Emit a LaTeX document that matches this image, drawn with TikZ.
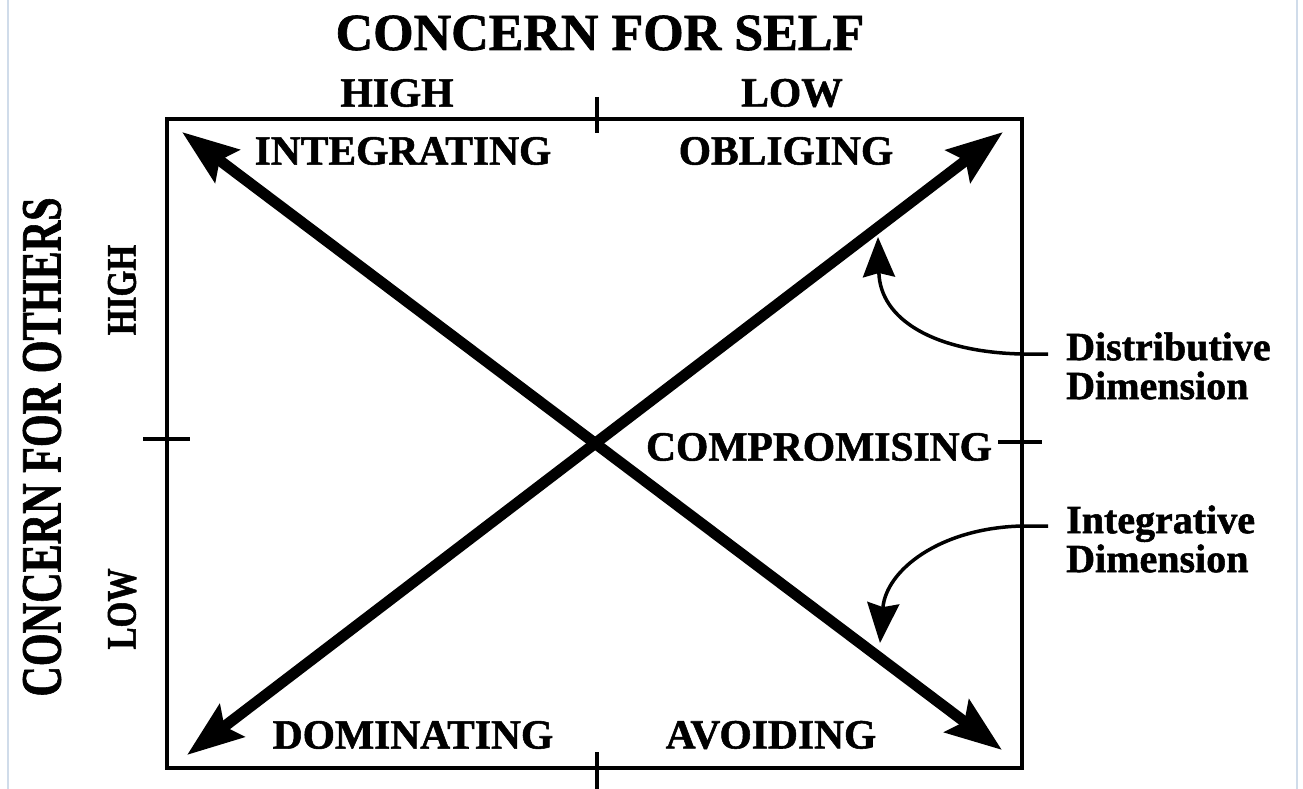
\documentclass[tikz,border=0pt]{standalone}
\usepackage{fontspec}
\setmainfont{Liberation Serif}[BoldFeatures={FakeBold=1.3}]
\usepackage{graphicx}
\definecolor{cfframe}{RGB}{0,0,0}
\definecolor{cfedge}{RGB}{208,220,234}
\usetikzlibrary{arrows.meta}

\begin{document}
\begin{tikzpicture}[x=1pt,y=-1pt,
  headlbl/.style={font=\fontsize{52}{56}\selectfont\bfseries,inner sep=0pt},
  quadlbl/.style={font=\fontsize{41.5}{44}\selectfont\bfseries,inner sep=0pt},
  sidelbl/.style={font=\fontsize{57}{60}\selectfont\bfseries,inner sep=0pt,rotate=90},
  levlbl/.style={font=\fontsize{42}{46}\selectfont\bfseries,inner sep=0pt,rotate=90},
  dimlbl/.style={font=\fontsize{40}{39}\selectfont\bfseries,inner sep=0pt,align=left,anchor=west},
  bigarrow/.style={line width=11pt,{Stealth[length=56pt,width=40pt,inset=9pt]}-{Stealth[length=56pt,width=40pt,inset=9pt]}},
  callout/.style={line width=3.5pt,-{Stealth[length=40pt,width=32pt,inset=4pt]}},
  tickmark/.style={line width=4pt}]
\useasboundingbox (0,0) rectangle (1303,789);
\draw[cfedge,line width=2pt] (8,0) -- (8,789);
\draw[cfedge,line width=2pt] (1297,0) -- (1297,789);

% axes titles
\node[headlbl] (self) at (600,33) {CONCERN FOR SELF};
\node[sidelbl] (others) at (42,447) {\scalebox{0.74}[1]{CONCERN FOR OTHERS}};
\node[quadlbl] (selfhigh) at (397,93) {HIGH};
\node[quadlbl] (selflow) at (792,93) {LOW};
\node[levlbl] (othhigh) at (122,290) {\scalebox{0.79}[1]{HIGH}};
\node[levlbl] (othlow) at (122,609) {\scalebox{0.79}[1]{LOW}};

% frame and ticks
\draw[cfframe,line width=4.5pt] (167,119) rectangle (1022,768);
\draw[tickmark] (597,97) -- (597,133);
\draw[tickmark] (597,752) -- (597,789);
\draw[tickmark] (143,439) -- (190,439);
\draw[tickmark] (998,442) -- (1042,442);

% styles
\node[quadlbl] (integ) at (403,151) {INTEGRATING};
\node[quadlbl] (oblig) at (786,151) {OBLIGING};
\node[quadlbl] (comp) at (819,447) {COMPROMISING};
\node[quadlbl] (domin) at (413,735) {DOMINATING};
\node[quadlbl] (avoid) at (771,735) {AVOIDING};

% dimensions
\coordinate (tl) at (182,132);
\coordinate (br) at (1002,750);
\coordinate (bl) at (187,755);
\coordinate (tr) at (1003,132);
\draw[bigarrow] (tl) -- (br);
\draw[bigarrow] (bl) -- (tr);

\node[dimlbl] (distr) at (1066,366) {Distributive\\Dimension};
\node[dimlbl] (integr) at (1066,539) {Integrative\\Dimension};
\coordinate (dstart) at (1048,354);
\coordinate (dtip) at (878,237);
\coordinate (istart) at (1048,526);
\coordinate (itip) at (880,643);
\draw[callout] (dstart) -- (1022,354) .. controls (935,352) and (880,320) .. (dtip);
\draw[callout] (istart) -- (1022,526) .. controls (940,528) and (886,570) .. (itip);
\end{tikzpicture}
\end{document}
